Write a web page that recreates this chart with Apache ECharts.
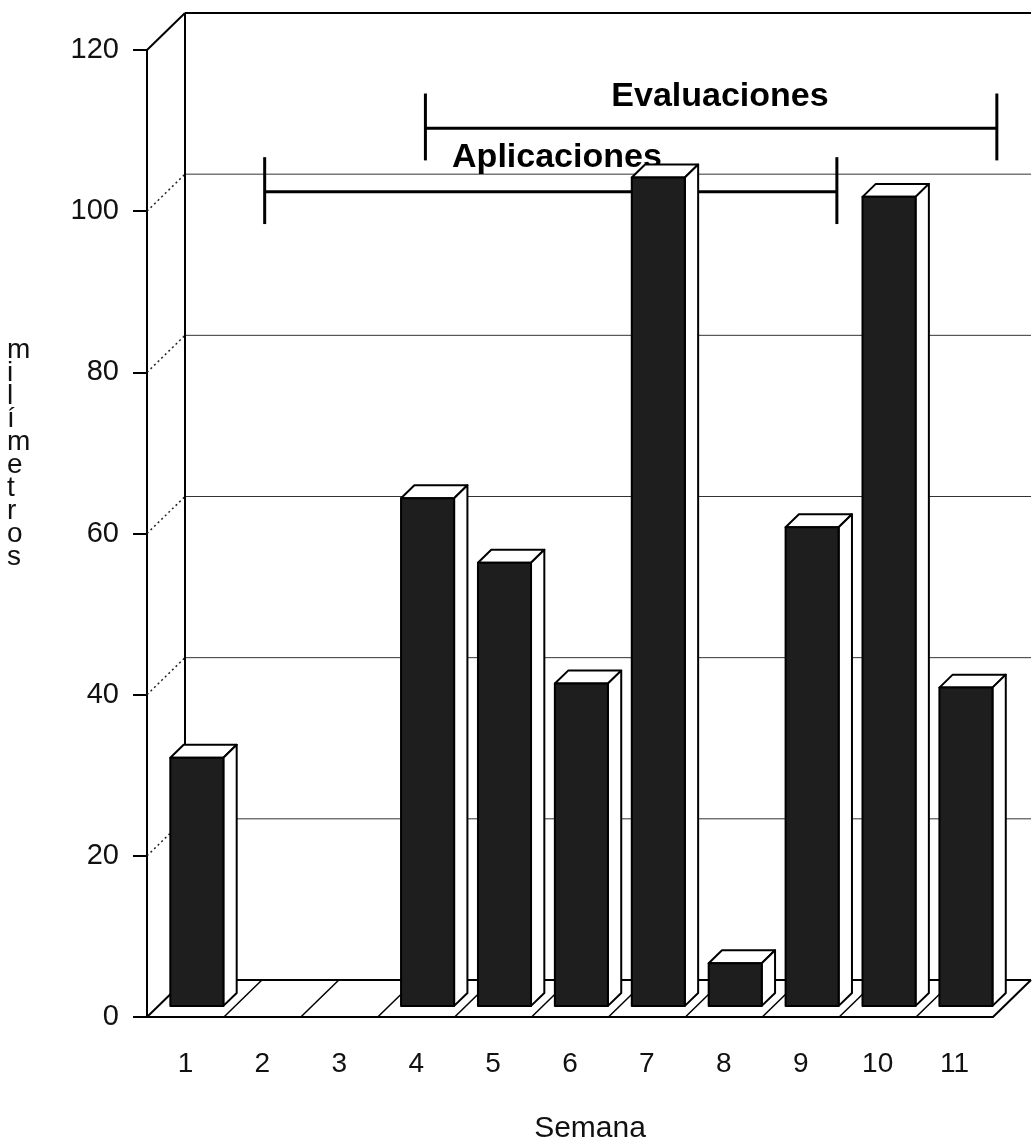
<!DOCTYPE html>
<html><head><meta charset="utf-8">
<script src="https://cdn.jsdelivr.net/npm/echarts@6/dist/echarts.min.js"></script>
<style>html,body{margin:0;padding:0;background:#fff}#c{width:1033px;height:1146px}</style>
</head><body><div id="c"></div>
<script>
// ---- data ----
const weeks = ['1','2','3','4','5','6','7','8','9','10','11'];
const weekNums = [1,2,3,4,5,6,7,8,9,10,11];
const values = [30.8, 0, 0, 63, 55, 40, 102.8, 5.3, 59.4, 100.4, 39.5];
const yTicks = [0, 20, 40, 60, 80, 100, 120];
const spanNames = ['Aplicaciones', 'Evaluaciones'];
const spanStart = [2.03, 4.12];
const spanEnd = [9.47, 11.55];
const spanLevel = [102.4, 110.3];
const spanLabelX = [5.83, 7.95];
const spanLabelY = [106.7, 114.2];

// ---- styling constants ----
const DX = 38, DY = -37;          // full depth offset of the 3D box
const D1 = 0.30, D2 = 0.65;       // bar front / back depth fractions
const BAR_W = 0.69;               // bar width as fraction of band
const FONT = 'Liberation Sans, Arial, sans-serif';

const chart = echarts.init(document.getElementById('c'));

function seg(a, b, style) {
  return { type: 'line', shape: { x1: a[0], y1: a[1], x2: b[0], y2: b[1] }, style: style };
}

function frameItem(params, api) {
  const p = (w, v, d) => { const c = api.coord([w, v]); return [c[0] + DX * d, c[1] + DY * d]; };
  const L = 0.5, R = 11.5;
  const solid = { stroke: '#000', lineWidth: 2 };
  const grid = { stroke: '#333', lineWidth: 1 };
  const dotted = { stroke: '#222', lineWidth: 1.5, lineDash: [2, 3] };
  const ch = [];
  yTicks.forEach(v => {
    if (v > 0 && v < 120) {
      ch.push(seg(p(L, v, 1), p(R, v, 1), grid));
      ch.push(seg(p(L, v, 0), p(L, v, 1), dotted));
    }
  });
  ch.push(seg(p(L, 120, 1), p(R, 120, 1), solid));
  ch.push(seg(p(L, 120, 0), p(L, 120, 1), solid));
  ch.push(seg(p(L, 0, 1), p(L, 120, 1), solid));
  ch.push(seg(p(L, 0, 1), p(R, 0, 1), solid));
  ch.push(seg(p(L, 0, 0), p(L, 0, 1), solid));
  ch.push(seg(p(R, 0, 0), p(R, 0, 1), solid));
  for (let k = 1; k < 11; k++) {
    ch.push(seg(p(k + 0.5, 0, 0), p(k + 0.5, 0, 1), { stroke: '#000', lineWidth: 1.5 }));
  }
  return { type: 'group', children: ch };
}

function barItem(params, api) {
  const w = api.value(0), v = api.value(1);
  if (!v) return null;
  const base = api.coord([w, 0]);
  const top = api.coord([w, v]);
  const bw = api.size([1, 0])[0] * BAR_W;
  const xl = base[0] - bw / 2, xr = base[0] + bw / 2;
  const f = (x, y, d) => [x + DX * d, y + DY * d];
  const st = { stroke: '#000', lineWidth: 2, lineJoin: 'round' };
  return {
    type: 'group',
    children: [
      { type: 'polygon', shape: { points: [f(xl, top[1], D1), f(xr, top[1], D1), f(xr, top[1], D2), f(xl, top[1], D2)] },
        style: Object.assign({ fill: '#fff' }, st) },
      { type: 'polygon', shape: { points: [f(xr, top[1], D1), f(xr, top[1], D2), f(xr, base[1], D2), f(xr, base[1], D1)] },
        style: Object.assign({ fill: '#fff' }, st) },
      { type: 'polygon', shape: { points: [f(xl, top[1], D1), f(xr, top[1], D1), f(xr, base[1], D1), f(xl, base[1], D1)] },
        style: Object.assign({ fill: '#1e1e1e' }, st) }
    ]
  };
}

function spanItem(params, api) {
  const i = params.dataIndex;
  const a = api.coord([spanStart[i], spanLevel[i]]);
  const b = api.coord([spanEnd[i], spanLevel[i]]);
  const up = api.coord([spanStart[i], spanLevel[i] + 4.3])[1];
  const dn = api.coord([spanStart[i], spanLevel[i] - 4.0])[1];
  const lab = api.coord([spanLabelX[i], spanLabelY[i]]);
  const st = { stroke: '#000', lineWidth: 3 };
  return {
    type: 'group',
    children: [
      seg(a, b, st),
      seg([a[0], up], [a[0], dn], st),
      seg([b[0], up], [b[0], dn], st),
      { type: 'text', x: lab[0], y: lab[1],
        style: { text: spanNames[i], fill: '#000', font: 'bold 34px ' + FONT, align: 'center', verticalAlign: 'middle' } }
    ]
  };
}

chart.setOption({
  animation: false,
  backgroundColor: '#fff',
  grid: { left: 147, top: 50, width: 846, height: 967, containLabel: false, outerBoundsMode: 'none' },
  xAxis: [
    { type: 'category', data: weeks, boundaryGap: true,
      axisLine: { lineStyle: { color: '#000', width: 2 } },
      axisTick: { alignWithLabel: true, length: 17, lineStyle: { color: '#000', width: 2 } },
      axisLabel: { margin: 33, fontSize: 28, color: '#111', fontFamily: FONT },
      name: 'Semana', nameLocation: 'middle', nameGap: 97,
      nameTextStyle: { fontSize: 30, color: '#111', fontFamily: FONT, padding: [0, 0, 0, 40] } },
    { type: 'value', min: 0.5, max: 11.5, show: false }
  ],
  yAxis: { type: 'value', min: 0, max: 120, interval: 20,
    axisLine: { show: true, lineStyle: { color: '#000', width: 2 } },
    axisTick: { show: true, length: 14, lineStyle: { color: '#000', width: 2 } },
    axisLabel: { margin: 28, fontSize: 29, color: '#111', fontFamily: FONT },
    splitLine: { show: false } },
  graphic: [
    { type: 'text', left: 7, top: 336,
      style: { text: 'm\ni\nl\ní\nm\ne\nt\nr\no\ns', font: '28px ' + FONT, lineHeight: 23, align: 'center', fill: '#111' } }
  ],
  series: [
    { type: 'custom', xAxisIndex: 1, yAxisIndex: 0, clip: false, z: 1, silent: true,
      data: [[1, 0]], renderItem: frameItem },
    { type: 'custom', xAxisIndex: 1, yAxisIndex: 0, clip: false, z: 2, silent: true,
      data: spanNames.map((n, i) => [spanStart[i], spanLevel[i]]), renderItem: spanItem },
    { type: 'custom', xAxisIndex: 1, yAxisIndex: 0, clip: false, z: 3, silent: true,
      data: weekNums.map((w, i) => [w, values[i]]), renderItem: barItem }
  ]
});
</script>
</body></html>
